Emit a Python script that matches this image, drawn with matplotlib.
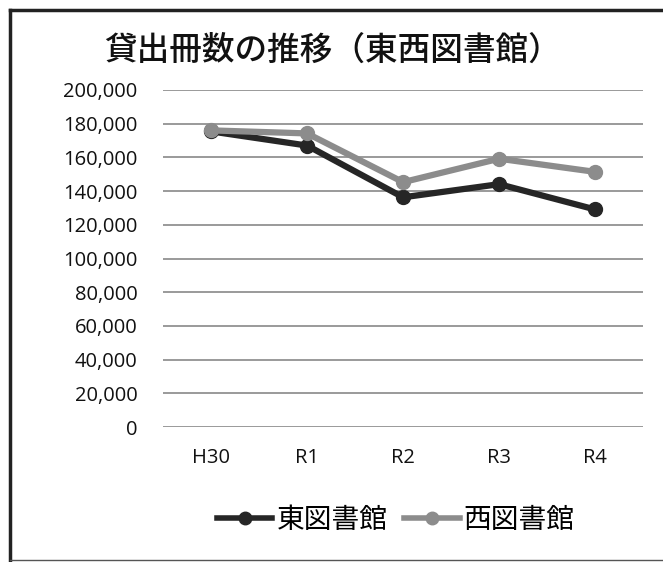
import matplotlib
matplotlib.use("Agg")
import matplotlib.pyplot as plt
from matplotlib.lines import Line2D
from matplotlib.ticker import FuncFormatter

plt.rcParams['font.family'] = ['Noto Sans CJK JP', 'DejaVu Sans']

# data
years = ["H30", "R1", "R2", "R3", "R4"]
east = [175400, 167000, 136300, 144100, 129100]
west = [176000, 174200, 145300, 159200, 151400]
yticks = list(range(0, 200001, 20000))

fig = plt.figure(figsize=(6.63, 5.62), dpi=100, facecolor='white')
ax = fig.add_axes([0.246, 0.240, 0.724, 0.600])

x = range(len(years))
ax.plot(x, east, color='#262626', lw=4.5, marker='o', ms=10,
        label='東図書館', zorder=3)
ax.plot(x, west, color='#8c8c8c', lw=4.5, marker='o', ms=10,
        label='西図書館', zorder=3)

ax.set_xlim(-0.5, len(years) - 0.5)
ax.set_ylim(0, 200000)
ax.set_yticks(yticks)
ax.yaxis.set_major_formatter(FuncFormatter(lambda v, p: f"{int(v):,}"))
ax.set_xticks(list(x))
ax.set_xticklabels(years)
ax.tick_params(length=0, labelsize=14.5, colors='#111111')
ax.tick_params(axis='y', pad=18.5)
ax.tick_params(axis='x', pad=15)
for lab in ax.get_xticklabels() + ax.get_yticklabels():
    lab.set_family('Open Sans')
ax.grid(axis='y', color='#9a9a9a', lw=1.4)
ax.set_axisbelow(True)
for s in ax.spines.values():
    s.set_visible(False)

fig.text(0.502, 0.910, '貸出冊数の推移（東西図書館）', ha='center', va='center',
         fontsize=23.5, fontweight='medium', color='#111111')

leg = fig.legend(loc='center', bbox_to_anchor=(0.597, 0.075), ncol=2,
                 frameon=False, fontsize=20, handlelength=2.0,
                 columnspacing=0.6, handletextpad=0.15)
for h in leg.legend_handles:
    h.set_linewidth(4)
    h.set_markersize(9)

# chart frame: thick top and left, thin bottom
fig.add_artist(Line2D([10 / 663, 10 / 663], [2 / 562, 1 - 10 / 562],
                      transform=fig.transFigure, color='#222222', lw=2.5))
fig.add_artist(Line2D([10 / 663, 1.0], [1 - 10 / 562, 1 - 10 / 562],
                      transform=fig.transFigure, color='#222222', lw=2.5))
fig.add_artist(Line2D([10 / 663, 1.0], [2 / 562, 2 / 562],
                      transform=fig.transFigure, color='#555555', lw=1.0))

fig.savefig('out.png', dpi=100)
